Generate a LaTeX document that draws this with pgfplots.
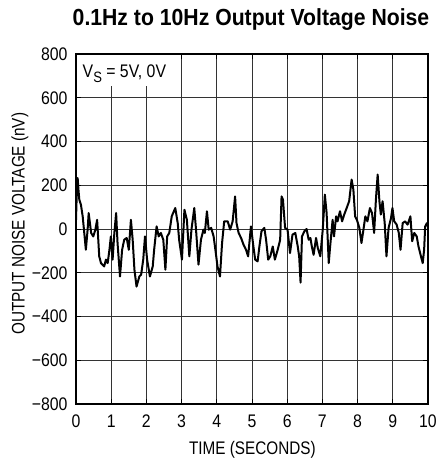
\documentclass[border=0pt]{standalone}
\usepackage{fontspec}
\setmainfont{Liberation Sans}[FakeStretch=0.87]
\newfontfamily\labfont{Liberation Sans}[FakeStretch=0.84]
\newfontfamily\titlefont{Liberation Sans Bold}[FakeStretch=0.91]
\usepackage{pgfplots}
\pgfplotsset{compat=1.18}
\begin{document}
\begin{tikzpicture}
\useasboundingbox (-76pt,-60pt) rectangle (362pt,404pt);
\begin{axis}[
  width=352pt, height=350pt, scale only axis,
  xmin=0, xmax=10, ymin=-800, ymax=800,
  xtick={0,1,...,10},
  xticklabels={0,1,2,3,4,5,6,7,8,9,10},
  ytick={-800,-600,...,800},
  yticklabels={−800,−600,−400,−200,0,200,400,600,800},
  grid=major,
  major grid style={black!80, line width=0.9pt},
  axis line style={black, line width=1.1pt},
  major tick length=5pt,
  tick style={black, line width=0.9pt},
  tick label style={font=\fontsize{18.2}{20}\selectfont},
  xticklabel style={yshift=-7pt},
  yticklabel style={xshift=-5pt},
  xlabel={TIME (SECONDS)},
  ylabel={OUTPUT NOISE VOLTAGE (nV)},
  every axis x label/.style={at={(axis description cs:0.501,-0.131)}, anchor=center, font=\labfont\fontsize{18.2}{20}\selectfont},
  every axis y label/.style={at={(axis description cs:-0.159,0.515)}, rotate=90, anchor=center, font=\labfont\fontsize{18.2}{20}\selectfont},
]
\fill[white] (axis cs:0,655) rectangle (axis cs:2.97,800);
\draw[black, line width=1.1pt] (axis cs:0,655) -- (axis cs:0,800) -- (axis cs:3,800);
\draw[black, line width=0.9pt] (axis cs:1,800) -- ++(0,-5pt);
\draw[black, line width=0.9pt] (axis cs:2,800) -- ++(0,-5pt);
\addplot[black, line width=2pt, line join=round, no marks] coordinates {
(0,42) (0.02,150) (0.047,233) (0.07,180) (0.094,134) (0.14,111) (0.19,58)
(0.235,-18) (0.28,-95) (0.33,-3) (0.36,73) (0.43,-18) (0.49,-34) (0.55,-3)
(0.60,42) (0.66,-125) (0.71,-156) (0.80,-171) (0.85,-140) (0.90,-156) (0.95,-95)
(0.99,-34) (1.04,-140) (1.09,-18) (1.14,73) (1.18,-64) (1.25,-217) (1.31,-95)
(1.37,-49) (1.44,-41) (1.50,-95) (1.56,42) (1.61,-49) (1.66,-186) (1.72,-263)
(1.80,-217) (1.85,-209) (1.91,-140) (1.96,-34) (2.02,-140) (2.10,-217) (2.18,-171)
(2.22,-95) (2.29,12) (2.35,-34) (2.41,-18) (2.48,-49) (2.54,-186) (2.59,-34)
(2.65,-18) (2.72,58) (2.82,96) (2.89,27) (2.93,-49) (3.01,-140) (3.08,88)
(3.15,42) (3.22,-125) (3.28,-3) (3.36,96) (3.41,-3) (3.48,-163) (3.55,-49)
(3.62,-3) (3.66,-18) (3.72,81) (3.77,-3) (3.84,5) (3.91,-34) (3.96,-95)
(4.02,-171) (4.09,-217) (4.15,-64) (4.21,35) (4.31,35) (4.38,-3) (4.45,35)
(4.52,149) (4.56,27) (4.62,-18) (4.69,-41) (4.76,-72) (4.83,-95) (4.89,-125)
(4.97,12) (5.04,-80) (5.09,-140) (5.16,-148) (5.21,-80) (5.27,-10) (5.35,5)
(5.40,-49) (5.46,-140) (5.52,-125) (5.59,-80) (5.65,-140) (5.73,-95) (5.80,-49)
(5.84,149) (5.88,134) (5.94,5) (6.01,-3) (6.08,-110) (6.15,-26) (6.23,-18)
(6.30,-80) (6.34,-125) (6.38,-245) (6.42,-34) (6.49,-10) (6.55,0) (6.61,-49)
(6.66,-41) (6.70,-80) (6.75,-118) (6.82,-41) (6.87,-87) (6.94,-125) (7.01,-3)
(7.07,157) (7.12,73) (7.18,-156) (7.22,-80) (7.29,42) (7.33,-34) (7.39,58)
(7.43,35) (7.50,81) (7.56,35) (7.62,66) (7.69,96) (7.76,127) (7.83,226)
(7.88,180) (7.93,58) (7.98,42) (8.05,5) (8.11,-64) (8.16,-10) (8.22,58)
(8.28,35) (8.35,96) (8.41,73) (8.47,-18) (8.52,134) (8.57,249) (8.62,127)
(8.66,66) (8.71,127) (8.77,27) (8.82,-125) (8.88,5) (8.95,50) (8.99,96)
(9.04,35) (9.11,20) (9.17,-18) (9.22,-95) (9.28,27) (9.35,35) (9.42,20)
(9.50,58) (9.55,-56) (9.61,-18) (9.68,-34) (9.73,-80) (9.80,-125) (9.85,-156)
(9.89,-95) (9.92,12) (9.97,27) (10,10)
};
\node[anchor=base west, xshift=6.5pt, yshift=-24pt, inner sep=0pt, font=\fontsize{18.2}{20}\selectfont] at (rel axis cs:0,1) {V\raisebox{-4.5pt}{\fontsize{15}{15}\selectfont S} = 5V, 0V};
\end{axis}
\node[anchor=base, inner sep=0pt] at (175pt,378pt) {\titlefont\fontsize{23.3}{26}\selectfont 0.1Hz to 10Hz Output Voltage Noise};
\end{tikzpicture}
\end{document}
